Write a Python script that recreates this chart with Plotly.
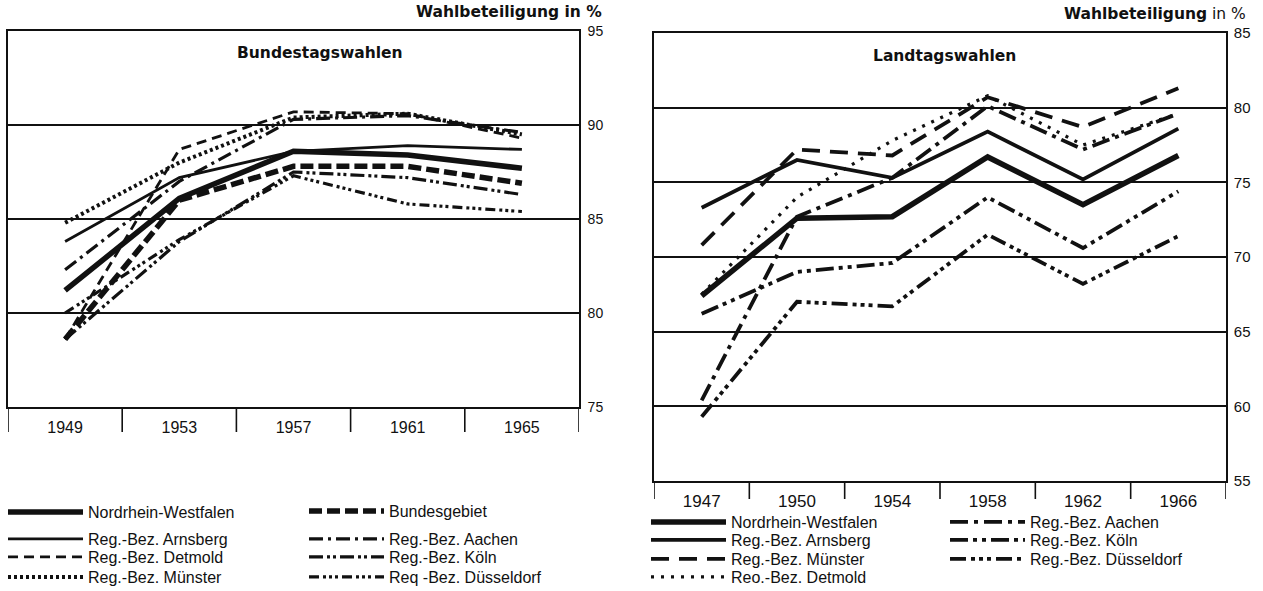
import plotly.graph_objects as go

# ---------------- data ----------------
bt_years = ["1949", "1953", "1957", "1961", "1965"]
bt_nrw = [81.2, 86.1, 88.6, 88.4, 87.7]
bt_arnsberg = [83.8, 87.2, 88.6, 88.9, 88.7]
bt_detmold = [78.6, 88.7, 90.7, 90.6, 89.3]
bt_muenster = [84.8, 88.0, 90.4, 90.6, 89.5]
bt_bund = [78.6, 86.0, 87.8, 87.8, 86.9]
bt_aachen = [82.3, 87.0, 90.3, 90.5, 89.6]
bt_koeln = [78.6, 83.8, 87.5, 87.2, 86.3]
bt_duesseldorf = [80.0, 83.9, 87.3, 85.8, 85.4]

lt_years = ["1947", "1950", "1954", "1958", "1962", "1966"]
lt_nrw = [67.4, 72.6, 72.7, 76.7, 73.5, 76.8]
lt_arnsberg = [73.3, 76.5, 75.3, 78.4, 75.2, 78.6]
lt_muenster = [70.8, 77.2, 76.8, 80.7, 78.7, 81.3]
lt_detmold = [67.5, 74.0, 77.8, 80.8, 77.5, 79.6]
lt_aachen = [60.4, 72.7, 75.3, 80.1, 77.2, 79.6]
lt_koeln = [66.2, 69.0, 69.6, 74.0, 70.6, 74.4]
lt_duesseldorf = [59.3, 67.0, 66.7, 71.5, 68.2, 71.4]

bt_ticks = [75, 80, 85, 90, 95]
lt_ticks = [55, 60, 65, 70, 75, 80, 85]

# ---------------- layout geometry ----------------
W, H = 1263, 591
FONT = "Liberation Sans, Arial, Helvetica, sans-serif"
HEAD = "DejaVu Sans, Liberation Sans, Arial, sans-serif"
INK = "#111111"

def fx(p):
    return p / W

def fy(p):
    return 1 - p / H

L_dx = [fx(8), fx(579)]
L_dy = [fy(407), fy(31)]
R_dx = [fx(654), fx(1226)]
R_dy = [fy(481), fy(33)]

fig = go.Figure()
legend_layout = {}
leg_count = [0]

def add(x, y, name, width, dash, xa, ya, lx, ly, size=16):
    leg_count[0] += 1
    lname = "legend" if leg_count[0] == 1 else "legend%d" % leg_count[0]
    fig.add_trace(go.Scatter(
        x=x, y=y, name=name, mode="lines",
        line=dict(color=INK, width=width, dash=dash),
        xaxis=xa, yaxis=ya, legend=lname,
        hoverinfo="skip",
    ))
    legend_layout[lname] = dict(
        x=fx(lx - 6), y=fy(ly), xanchor="left", yanchor="middle",
        orientation="v", bgcolor="rgba(0,0,0,0)", itemwidth=75,
        itemclick=False, itemdoubleclick=False,
        font=dict(size=size, family=FONT, color=INK),
    )

# Bundestagswahlen (left)
add(bt_years, bt_nrw, "Nordrhein-Westfalen", 5.5, "solid", "x", "y", 9, 512)
add(bt_years, bt_arnsberg, "Reg.-Bez. Arnsberg", 2.8, "solid", "x", "y", 9, 539)
add(bt_years, bt_detmold, "Reg.-Bez. Detmold", 2.8, "10px,6px", "x", "y", 9, 557)
add(bt_years, bt_muenster, "Reg.-Bez. Münster", 4, "3px,3px", "x", "y", 9, 577)
add(bt_years, bt_bund, "Bundesgebiet", 5.5, "13px,5px", "x", "y", 310, 511)
add(bt_years, bt_aachen, "Reg.-Bez. Aachen", 3.2, "14px,5px,3px,5px", "x", "y", 310, 539)
add(bt_years, bt_koeln, "Reg.-Bez. Köln", 3.2, "14px,4px,3px,3px,3px,4px", "x", "y", 310, 557)
add(bt_years, bt_duesseldorf, "Req -Bez. Düsseldorf", 3.2, "10px,4px,3px,3px,3px,3px,3px,4px", "x", "y", 310, 577)

# Landtagswahlen (right)
add(lt_years, lt_nrw, "Nordrhein-Westfalen", 5.5, "solid", "x2", "y2", 652, 522)
add(lt_years, lt_arnsberg, "Reg.-Bez. Arnsberg", 3.8, "solid", "x2", "y2", 652, 540)
add(lt_years, lt_muenster, "Reg.-Bez. Münster", 3.8, "18px,10px", "x2", "y2", 652, 559)
add(lt_years, lt_detmold, "Reo.-Bez. Detmold", 3.2, "3px,7px", "x2", "y2", 652, 577)
add(lt_years, lt_aachen, "Reg.-Bez. Aachen", 3.8, "18px,6px,4px,6px", "x2", "y2", 951, 522)
add(lt_years, lt_koeln, "Reg.-Bez. Köln", 3.8, "18px,5px,4px,5px,4px,5px", "x2", "y2", 951, 540)
add(lt_years, lt_duesseldorf, "Reg.-Bez. Düsseldorf", 3.8, "16px,5px,4px,4px,4px,4px,4px,5px", "x2", "y2", 951, 559)

axis_common = dict(showline=True, linecolor=INK, linewidth=1.6, mirror=True,
                   ticks="", zeroline=False, fixedrange=True)

fig.update_layout(
    width=W, height=H,
    margin=dict(l=0, r=0, t=0, b=0, autoexpand=False),
    paper_bgcolor="white", plot_bgcolor="white",
    font=dict(family=FONT, color=INK),
    xaxis=dict(domain=L_dx, anchor="y", type="category", range=[-0.5, len(bt_years) - 0.5],
               showgrid=False, tickfont=dict(size=16), ticklabelstandoff=5, **axis_common),
    yaxis=dict(domain=L_dy, anchor="x", side="right", range=[bt_ticks[0], bt_ticks[-1]],
               tickvals=bt_ticks, showgrid=True, gridcolor=INK, gridwidth=1.6,
               tickfont=dict(size=14), ticklabelstandoff=4, **axis_common),
    xaxis2=dict(domain=R_dx, anchor="y2", type="category", range=[-0.5, len(lt_years) - 0.5],
                showgrid=False, tickfont=dict(size=17), ticklabelstandoff=4, **axis_common),
    yaxis2=dict(domain=R_dy, anchor="x2", side="right", range=[lt_ticks[0], lt_ticks[-1]],
                tickvals=lt_ticks, showgrid=True, gridcolor=INK, gridwidth=1.6,
                tickfont=dict(size=15), ticklabelstandoff=3, **axis_common),
    showlegend=True,
)
fig.update_layout(**legend_layout)

# band separators below the plot areas (at category boundaries)
shapes = []
for k in range(len(bt_years) + 1):
    shapes.append(dict(type="line", xref="x", yref="paper", x0=k - 0.5, x1=k - 0.5,
                       y0=L_dy[0], y1=fy(432), line=dict(color=INK, width=1.6)))
for k in range(len(lt_years) + 1):
    shapes.append(dict(type="line", xref="x2", yref="paper", x0=k - 0.5, x1=k - 0.5,
                       y0=R_dy[0], y1=fy(499), line=dict(color=INK, width=1.6)))
fig.update_layout(shapes=shapes)

fig.update_layout(annotations=[
    dict(text="<b>Wahlbeteiligung in %</b>", x=fx(604), y=fy(12), xref="paper", yref="paper",
         xanchor="right", yanchor="middle", showarrow=False, font=dict(size=15.5, family=HEAD)),
    dict(text="<b>Wahlbeteiligung</b> in %", x=fx(1248), y=fy(14), xref="paper", yref="paper",
         xanchor="right", yanchor="middle", showarrow=False, font=dict(size=15.5, family=HEAD)),
    dict(text="<b>Bundestagswahlen</b>", x=fx(320), y=fy(53), xref="paper", yref="paper",
         xanchor="center", yanchor="middle", showarrow=False, font=dict(size=15.5, family=HEAD)),
    dict(text="<b>Landtagswahlen</b>", x=fx(944), y=fy(56), xref="paper", yref="paper",
         xanchor="center", yanchor="middle", showarrow=False, font=dict(size=15.5, family=HEAD)),
])

fig.write_html("out.html", config={"displayModeBar": False},
               post_script="document.body.style.margin='0';document.body.style.overflow='hidden';")
